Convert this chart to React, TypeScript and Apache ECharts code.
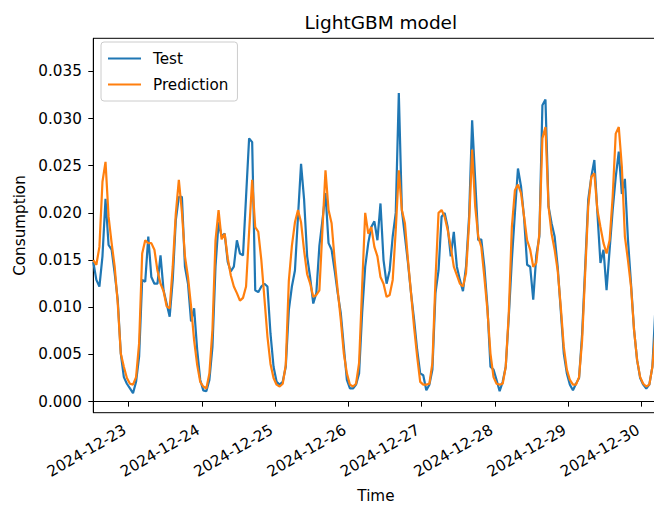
import React, { useEffect, useRef } from 'react';
import * as echarts from 'echarts';

// Hourly timestamps starting at 2024-12-22 12:30 UTC
const START = Date.UTC(2024, 11, 22, 12, 30);
const HOUR = 3600000;

const testValues = [
  0.0148, 0.0129, 0.0122, 0.0154, 0.0215, 0.0166, 0.0161, 0.0136, 0.0108, 0.0051,
  0.0026, 0.0019, 0.0014, 0.0009, 0.0021, 0.0048, 0.0129, 0.0127, 0.0175, 0.0132,
  0.0125, 0.0125, 0.0155, 0.0118, 0.0104, 0.0090, 0.0129, 0.0192, 0.0217, 0.0217,
  0.0143, 0.0125, 0.0085, 0.0099, 0.0055, 0.0023, 0.0012, 0.0011, 0.0023, 0.0058,
  0.0143, 0.0190, 0.0175, 0.0178, 0.0148, 0.0138, 0.0143, 0.0171, 0.0157, 0.0155,
  0.0217, 0.0279, 0.0275, 0.0118, 0.0116, 0.0122, 0.0125, 0.0122, 0.0072, 0.0037,
  0.0021, 0.0018, 0.0021, 0.0037, 0.0097, 0.0122, 0.0139, 0.0196, 0.0252, 0.0214,
  0.0154, 0.0131, 0.0104, 0.0115, 0.0165, 0.0192, 0.0221, 0.0168, 0.0161, 0.0139,
  0.0115, 0.0094, 0.0058, 0.0023, 0.0014, 0.0014, 0.0018, 0.0030, 0.0094, 0.0143,
  0.0168, 0.0185, 0.0191, 0.0171, 0.0210, 0.0150, 0.0125, 0.0139, 0.0175, 0.0200,
  0.0327, 0.0203, 0.0175, 0.0147, 0.0115, 0.0087, 0.0055, 0.0030, 0.0028, 0.0012,
  0.0018, 0.0034, 0.0115, 0.0139, 0.0196, 0.0200, 0.0185, 0.0154, 0.0180, 0.0143,
  0.0129, 0.0117, 0.0143, 0.0196, 0.0298, 0.0235, 0.0171, 0.0172, 0.0143, 0.0101,
  0.0037, 0.0034, 0.0023, 0.0011, 0.0021, 0.0037, 0.0090, 0.0150, 0.0200, 0.0247,
  0.0228, 0.0195, 0.0145, 0.0143, 0.0108, 0.0155, 0.0175, 0.0314, 0.0320, 0.0207,
  0.0189, 0.0175, 0.0143, 0.0097, 0.0051, 0.0030, 0.0018, 0.0012, 0.0019, 0.0025,
  0.0072, 0.0143, 0.0214, 0.0238, 0.0256, 0.0200, 0.0147, 0.0161, 0.0118, 0.0161,
  0.0203, 0.0238, 0.0265, 0.0220, 0.0236, 0.0172, 0.0125, 0.0076, 0.0044, 0.0025,
  0.0018, 0.0014, 0.0018, 0.0037, 0.0100, 0.0140,
];

const predictionValues = [
  0.0150, 0.0145, 0.0164, 0.0233, 0.0254, 0.0196, 0.0168, 0.0143, 0.0104, 0.0051,
  0.0037, 0.0025, 0.0019, 0.0018, 0.0026, 0.0062, 0.0157, 0.0171, 0.0168, 0.0168,
  0.0161, 0.0139, 0.0125, 0.0117, 0.0101, 0.0099, 0.0143, 0.0199, 0.0235, 0.0201,
  0.0154, 0.0132, 0.0101, 0.0065, 0.0039, 0.0021, 0.0016, 0.0014, 0.0030, 0.0076,
  0.0171, 0.0203, 0.0172, 0.0178, 0.0152, 0.0134, 0.0122, 0.0115, 0.0107, 0.0110,
  0.0122, 0.0180, 0.0235, 0.0185, 0.0180, 0.0150, 0.0110, 0.0069, 0.0040, 0.0025,
  0.0018, 0.0016, 0.0019, 0.0039, 0.0128, 0.0165, 0.0190, 0.0203, 0.0190, 0.0160,
  0.0135, 0.0125, 0.0111, 0.0113, 0.0118, 0.0182, 0.0245, 0.0203, 0.0189, 0.0150,
  0.0118, 0.0087, 0.0051, 0.0030, 0.0018, 0.0016, 0.0019, 0.0041, 0.0122, 0.0200,
  0.0178, 0.0185, 0.0164, 0.0154, 0.0132, 0.0125, 0.0111, 0.0113, 0.0129, 0.0182,
  0.0245, 0.0203, 0.0189, 0.0150, 0.0115, 0.0079, 0.0048, 0.0021, 0.0018, 0.0018,
  0.0019, 0.0041, 0.0129, 0.0200, 0.0203, 0.0196, 0.0182, 0.0164, 0.0143, 0.0134,
  0.0125, 0.0122, 0.0136, 0.0189, 0.0267, 0.0207, 0.0175, 0.0164, 0.0132, 0.0097,
  0.0051, 0.0026, 0.0019, 0.0018, 0.0019, 0.0037, 0.0094, 0.0185, 0.0224, 0.0230,
  0.0221, 0.0196, 0.0171, 0.0161, 0.0143, 0.0147, 0.0178, 0.0279, 0.0291, 0.0207,
  0.0178, 0.0161, 0.0139, 0.0101, 0.0058, 0.0034, 0.0023, 0.0018, 0.0018, 0.0026,
  0.0065, 0.0136, 0.0207, 0.0238, 0.0242, 0.0203, 0.0185, 0.0168, 0.0157, 0.0171,
  0.0217, 0.0284, 0.0291, 0.0249, 0.0175, 0.0150, 0.0122, 0.0076, 0.0044, 0.0026,
  0.0019, 0.0016, 0.0018, 0.0037, 0.0075, 0.0110,
];

const dayTicks = [
  '2024-12-23', '2024-12-24', '2024-12-25', '2024-12-26',
  '2024-12-27', '2024-12-28', '2024-12-29', '2024-12-30',
];
const yTicks = [0, 0.005, 0.01, 0.015, 0.02, 0.025, 0.03, 0.035];

const FONT = 'DejaVu Sans';
const TICK_FS = 15.2;
const TITLE_FS = 18.5;

export default function App() {
  const ref = useRef<HTMLDivElement>(null);

  useEffect(() => {
    if (!ref.current) return;
    const chart = echarts.init(ref.current, null, { renderer: 'svg' });
    const times = testValues.map((_, i) => START + i * HOUR);
    const tickTimes = dayTicks.map((d) => Date.parse(d + 'T00:00:00Z'));

    chart.setOption({
      animation: false,
      backgroundColor: '#ffffff',
      textStyle: { fontFamily: FONT },
      title: {
        text: 'LightGBM model',
        left: 299.5,
        top: 8,
        textStyle: { fontFamily: FONT, fontSize: TITLE_FS, fontWeight: 'normal', color: '#000' },
      },
      legend: {
        data: ['Test', 'Prediction'],
        orient: 'vertical',
        left: 101,
        top: 42,
        padding: [9, 9, 9, 6],
        itemWidth: 33,
        itemHeight: 14,
        itemGap: 11,
        itemStyle: { opacity: 0 },
        backgroundColor: 'rgba(255,255,255,0.8)',
        borderColor: '#cccccc',
        borderWidth: 1,
        borderRadius: 3,
        textStyle: { fontFamily: FONT, fontSize: TICK_FS, color: '#000', padding: [0, 0, 0, 7] },
      },
      grid: {
        left: 93.3,
        top: 38.3,
        bottom: 92.3,
        right: -4.5,
        show: true,
        borderColor: '#000',
        borderWidth: 1,
        containLabel: false,
        outerBoundsMode: 'none',
      },
      xAxis: {
        type: 'value',
        min: START,
        max: START + (testValues.length - 1) * HOUR,
        name: 'Time',
        nameLocation: 'middle',
        nameGap: 75,
        nameTextStyle: { fontFamily: FONT, fontSize: TICK_FS, lineHeight: 16, color: '#000' },
        axisLine: { show: true, lineStyle: { color: '#000', width: 1 } },
        axisTick: {
          show: true,
          inside: false,
          length: 5,
          lineStyle: { color: '#000', width: 1 },
          customValues: tickTimes,
        },
        axisLabel: {
          customValues: tickTimes,
          rotate: 30,
          margin: 14,
          padding: [0, 4, 0, 0],
          fontFamily: FONT,
          fontSize: TICK_FS,
          color: '#000',
          formatter: (v: number) => new Date(v).toISOString().slice(0, 10),
        },
        splitLine: { show: false },
      },
      yAxis: {
        type: 'value',
        min: -0.00117,
        max: 0.0385,
        name: 'Consumption',
        nameLocation: 'middle',
        nameGap: 63,
        nameTextStyle: { fontFamily: FONT, fontSize: TICK_FS, color: '#000' },
        axisLine: { show: true, lineStyle: { color: '#000', width: 1 } },
        axisTick: {
          show: true,
          inside: false,
          length: 5,
          lineStyle: { color: '#000', width: 1 },
          customValues: yTicks,
        },
        axisLabel: {
          customValues: yTicks,
          margin: 11.5,
          fontFamily: FONT,
          fontSize: TICK_FS,
          color: '#000',
          formatter: (v: number) => v.toFixed(3),
        },
        splitLine: { show: false },
      },
      series: [
        {
          name: 'Test',
          type: 'line',
          symbol: 'none',
          color: '#1f77b4',
          lineStyle: { color: '#1f77b4', width: 2.2 },
          data: times.map((t, i) => [t, testValues[i]]),
        },
        {
          name: 'Prediction',
          type: 'line',
          symbol: 'none',
          color: '#ff7f0e',
          lineStyle: { color: '#ff7f0e', width: 2.2 },
          data: times.map((t, i) => [t, predictionValues[i]]),
        },
      ],
    });

    return () => chart.dispose();
  }, []);

  return (
    <div
      ref={ref}
      style={{ position: 'absolute', left: 0, top: 0, width: 654, height: 505, overflow: 'hidden' }}
    />
  );
}
